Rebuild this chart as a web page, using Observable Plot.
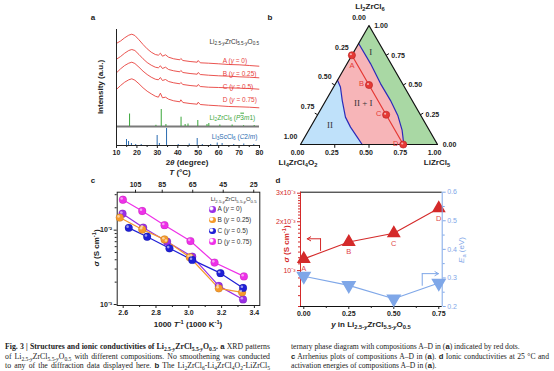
<!DOCTYPE html>
<html><head><meta charset="utf-8">
<script src="https://cdn.jsdelivr.net/npm/d3@7"></script>
<script src="https://cdn.jsdelivr.net/npm/@observablehq/plot@0.6"></script>
<style>
html,body{margin:0;padding:0;background:#fff;}
#root{position:relative;width:554px;height:371px;overflow:hidden;background:#fff;}
.t{position:absolute;white-space:nowrap;line-height:1;}
.cap{position:absolute;font-family:'Liberation Serif','Times New Roman',serif;font-size:7px;line-height:1;white-space:nowrap;color:#222;}
</style></head><body><div id="root"></div>
<script>
// ---------------- DATA ----------------
// (a) XRD patterns, 2θ (degree) and offset intensity (a.u.)
const twoTheta = [10.3,12,14,16,17.5,19,21,23,25,27,29,30.5,31.5,32.5,34,35.5,38,41,41.5,42.5,46,49.5,50,51,55,60,65,70,75,79.7];
const xrdA = [102.5,104.5,107.7,110.3,111.3,110,105.7,101,96.7,93.3,91,90.3,92.3,89.3,90.7,88.3,86.7,85.7,87,85,84,83.3,85,82.7,82.3,81.7,81,80.7,80,79.3];
const xrdB = [86.7,89,92.3,95,96,95,91,86.7,83,80.3,78.3,77.7,79.7,77,78.3,76,74.7,73.7,75,73,72,71.3,73,71,70.3,69.7,69.3,68.7,68.3,67.7];
const xrdC = [73.3,76.7,80,82.3,83.3,82,78.3,74.3,71,68.3,66.3,65.7,68,65,66,64,62.7,61.7,63,61,60,59.3,61,59,58.3,58,57.7,57.3,57,56.3];
const xrdD = [56.7,60,63.3,65.7,66.7,65.3,61.7,57.7,54.3,51.7,49.3,48.3,52.3,47.7,48.3,46.3,44.7,43.7,45.7,43,42,41.3,43.3,41,40.3,39.7,39,38.7,38.3,37.7];
const xrdSeries = ["A","B","C","D"];
const refLi2ZrCl6Pos = [16.4,29.3,31.9,34.2,41.6,43.6,45.0,49.8,54.3,55.2,60.6,66.6,72.2,77.4];
const refLi2ZrCl6Int = [12.5,1.2,17,2,9.3,2,2.5,6,2,3,1.5,1.5,0.8,1];
const refLi3ScCl6Pos = [14.9,15.9,17.3,19.4,22.1,29.9,31.0,34.5,40.2,45.6,49.5,52.0,56.1,59.3,61.7,67.4,72.3,77.2];
const refLi3ScCl6Int = [6,4,2,1,1,10,2,17,1,1.5,7,1,1,2.5,2,1,1.5,1];
const refBaseline = 19;

// (b) ternary phase diagram: fractions of Li2ZrCl6 (t) and LiZrCl5 (b); Li4ZrCl4O2 = 1 - t - b
const ternTicks = [0,0.25,0.5,0.75,1];
const compLabels = ["A","B","C","D"];
const compLi2ZrCl6 = [0.75,0.5,0.25,0];
const compLiZrCl5 = [0,0.25,0.5,0.75];
const boundI_Li2ZrCl6 = [0.849,0.68,0.512,0.371,0.2445,0.118,0];
const boundI_LiZrCl5  = [0,0.171,0.328,0.471,0.588,0.683,0.754];
const boundII_Li2ZrCl6 = [0.54,0.483,0.371,0.23,0.146,0.062,0];
const boundII_LiZrCl5  = [0,0.05,0.119,0.213,0.292,0.383,0.45];

// (c) Arrhenius data: 1000/T (1000 K^-1) and σ (S cm^-1)
const invT_A = [2.596,2.722,2.868,3.021,3.183,3.331];
const sig_A  = [0.01667,0.01085,0.00699,0.0044,0.00178,0.00117];
const invT_B = [2.579,2.716,2.852,3.006,3.183,3.325];
const sig_B  = [0.01476,0.0102,0.00751,0.00432,0.00165,0.00146];
const invT_C = [2.634,2.746,2.882,3.021,3.193,3.331];
const sig_C  = [0.01074,0.00815,0.0057,0.00398,0.00264,0.00167];
const invT_D = [2.598,2.716,2.852,3.010,3.157,3.336];
const sig_D  = [0.02565,0.01811,0.01166,0.00714,0.00367,0.00239];
const tempTickPos = [2.675,2.838,3.024,3.21,3.396];
const tempTickLabels = ["105","85","65","45","25"];

// (d) σ at 25 °C and activation energy vs y
const yComp = [0,0.25,0.5,0.75];
const sigma25 = [1.18e-3,1.50e-3,1.70e-3,2.42e-3];
const Ea = [0.306,0.274,0.227,0.282];
const sigmaArrow = [{x:0.093,s:1.33e-3},{x:0.093,s:1.57e-3},{x:0.019,s:1.57e-3}];
const eaArrow = [{x:0.658,e:0.274},{x:0.658,e:0.315},{x:0.748,e:0.315}];

// ---------------- HELPERS ----------------
const W=554,H=371;
const root=document.getElementById("root");
const SANS="'Liberation Sans', Arial, Helvetica, sans-serif";
const SERIF="'Liberation Serif','Times New Roman',serif";
const RED="#e8413c", GREEN="#3aa63a", SCBLUE="#2b6cb0";
const DRED="#d42a2a", LBLUE="#7fa7e8";
const seriesColors=["#9a2ee6","#f59a2c","#1f1fd6","#ee30e8"];
const svgStyle=`position:absolute;left:0;top:0;background:transparent;overflow:visible;font-family:${SANS};font-size:7px;font-weight:bold;color:#222;`;
const sb=s=>`<span style="font-size:72%;position:relative;top:0.32em">${s}</span>`;
const sp=s=>`<span style="font-size:72%;position:relative;top:-0.45em">${s}</span>`;
const LZC=`Li${sb("2.5-<i>y</i>")}ZrCl${sb("5.5-<i>y</i>")}O${sb("0.5")}`;
function T(html,x,y,o={}){
  const {size=7,weight="normal",color="#222",anchor="middle",rotate=0,family=SANS}=o;
  const d=document.createElement("div");d.className="t";d.innerHTML=html;
  d.style.left=x+"px";d.style.top=y+"px";d.style.fontFamily=family;d.style.fontSize=size+"px";
  d.style.fontWeight=weight;d.style.color=color;
  const tx=anchor==="start"?"0":anchor==="end"?"-100%":"-50%";
  d.style.transform=`translate(${tx},-50%)`+(rotate?` rotate(${rotate}deg)`:"");
  root.appendChild(d);return d;
}
function add(p){root.appendChild(p);}
const triDown={draw(ctx,size){const r=Math.sqrt(size/Math.sqrt(3))*1.1;ctx.moveTo(-r,-r*0.58);ctx.lineTo(r,-r*0.58);ctx.lineTo(0,r*1.15);ctx.closePath();}};

// ---------------- PANEL a ----------------
const xrdArrays=[xrdA,xrdB,xrdC,xrdD];
const xrdRows=xrdSeries.flatMap((s,k)=>xrdArrays[k].map((v,i)=>({s,t:twoTheta[i],v})));
const greenRows=refLi2ZrCl6Pos.map((t,i)=>({t,h:refLi2ZrCl6Int[i]}));
const blueRows=refLi3ScCl6Pos.map((t,i)=>({t,h:refLi3ScCl6Int[i]}));
add(Plot.plot({
  width:W,height:H,marginLeft:116,marginRight:W-259,marginTop:29,marginBottom:H-145,
  style:svgStyle,x:{domain:[10,80]},y:{domain:[0,116]},
  marks:[
    Plot.ruleY([refBaseline],{stroke:"#7a7a7a",strokeWidth:1.8}),
    Plot.ruleX(greenRows,{x:"t",y1:refBaseline,y2:d=>refBaseline+d.h,stroke:GREEN,strokeWidth:1}),
    Plot.ruleX(blueRows,{x:"t",y1:0,y2:"h",stroke:SCBLUE,strokeWidth:1}),
    Plot.line(xrdRows,{x:"t",y:"v",z:"s",stroke:RED,strokeWidth:0.9}),
    Plot.ruleX([10],{stroke:"#222",strokeWidth:1}),
    Plot.ruleY([0],{stroke:"#222",strokeWidth:1}),
    Plot.axisX({ticks:d3.range(10,81,10),tickSize:3,tickPadding:2,label:null,tickFormat:d=>String(d)}),
    Plot.axisX({ticks:d3.range(15,80,10),tickSize:2,label:null,tickFormat:()=>""}),
    Plot.axisY({ticks:[],label:null})
  ]
}));

// ---------------- PANEL b ----------------
const s3=Math.sqrt(3)/2;
const tern=(t,b)=>({x:b+t/2,y:t*s3});
const bI=boundI_Li2ZrCl6.map((t,i)=>tern(t,boundI_LiZrCl5[i]));
const bII=boundII_Li2ZrCl6.map((t,i)=>tern(t,boundII_LiZrCl5[i]));
const apex=tern(1,0),BL=tern(0,0),BR=tern(0,1);
const polyI=[apex,BR,...bI.slice().reverse()];
const polyMix=[...bI,...bII.slice().reverse()];
const polyII=[BL,...bII];
const comps=compLabels.map((l,i)=>({l,...tern(compLi2ZrCl6[i],compLiZrCl5[i])}));
const tickL=ternTicks.map(v=>({v,...tern(1-v,0)}));
const tickR=ternTicks.map(v=>({v,...tern(v,1-v)}));
const tickB=ternTicks.map(v=>({v,...tern(0,v)}));
const tk=0.024;
add(Plot.plot({
  width:W,height:H,marginLeft:300,marginRight:W-437,marginTop:25,marginBottom:H-144,
  style:svgStyle,x:{domain:[0,1],axis:null},y:{domain:[0,s3],axis:null},
  marks:[
    Plot.line(polyI,{x:"x",y:"y",fill:"#a9d8a4",stroke:"none",curve:"linear-closed"}),
    Plot.line(polyMix,{x:"x",y:"y",fill:"#f7b5b8",stroke:"none",curve:"linear-closed"}),
    Plot.line(polyII,{x:"x",y:"y",fill:"#bfe1fa",stroke:"none",curve:"linear-closed"}),
    Plot.line(bI,{x:"x",y:"y",stroke:"#2a2ab8",strokeWidth:1.2}),
    Plot.line(bII,{x:"x",y:"y",stroke:"#2a2ab8",strokeWidth:1.2}),
    Plot.line([apex,BL,BR],{x:"x",y:"y",stroke:"#111",strokeWidth:1.2,curve:"linear-closed"}),
    Plot.link(tickB.slice(1,4),{x1:"x",y1:"y",x2:"x",y2:d=>d.y-tk,stroke:"#111"}),
    Plot.link(tickL.slice(1,4),{x1:"x",y1:"y",x2:d=>d.x-tk*0.87,y2:d=>d.y+tk*0.5,stroke:"#111"}),
    Plot.link(tickR.slice(1,4),{x1:"x",y1:"y",x2:d=>d.x+tk*0.87,y2:d=>d.y+tk*0.5,stroke:"#111"}),
    Plot.text(tickB,{x:"x",y:"y",text:d=>d.v.toFixed(2),dx:-3,dy:8,fontSize:7,fontWeight:"bold"}),
    Plot.text(tickL,{x:"x",y:"y",text:d=>d.v.toFixed(2),dx:-10,dy:-8,fontSize:7,fontWeight:"bold"}),
    Plot.text(tickR,{x:"x",y:"y",text:d=>d.v.toFixed(2),dx:12,dy:0,fontSize:7,fontWeight:"bold"}),
    Plot.line(comps,{x:"x",y:"y",stroke:"#e53935",strokeWidth:1.2}),
    Plot.dot(comps,{x:"x",y:"y",r:3.6,fill:"#e53935",stroke:"#b71c1c",strokeWidth:0.6}),
    Plot.dot(comps,{x:"x",y:"y",r:1.1,fill:"#fff",fillOpacity:0.6,dx:-1,dy:-1}),
    Plot.text(comps.slice(0,1),{x:"x",y:"y",text:"l",dy:10,fill:"#e53935",fontSize:7.5,fontWeight:"normal"}),
    Plot.text(comps.slice(1),{x:"x",y:"y",text:"l",dx:-7.5,dy:-1,fill:"#e53935",fontSize:7.5,fontWeight:"normal"})
  ]
}));

// ---------------- PANEL c ----------------
const cInv=[invT_A,invT_B,invT_C,invT_D],cSig=[sig_A,sig_B,sig_C,sig_D];
const cRows=compLabels.flatMap((s,k)=>cInv[k].map((x,i)=>({s,x,y:cSig[k][i]})));
const cMinor=[2,3,4,5,6,7,8,9].map(m=>m*1e-3).concat([0.02,0.03]);
add(Plot.plot({
  width:W,height:H,marginLeft:116.7,marginRight:W-259.3,marginTop:191.7,marginBottom:H-305,
  style:svgStyle,x:{domain:[2.5634,3.433]},y:{type:"log",domain:[9.7e-4,3.24e-2]},
  color:{domain:compLabels,range:seriesColors},
  marks:[
    Plot.frame({stroke:"#222"}),
    Plot.axisX({ticks:[2.6,2.8,3.0,3.2,3.4],tickSize:3,tickPadding:2,label:null,tickFormat:d=>d.toFixed(1)}),
    Plot.axisX({ticks:[2.7,2.9,3.1,3.3],tickSize:2,label:null,tickFormat:()=>""}),
    Plot.axisX({anchor:"top",ticks:tempTickPos,tickSize:3,tickPadding:2,label:null,tickFormat:d=>tempTickLabels[tempTickPos.indexOf(d)]}),
    Plot.axisY({ticks:[1e-3,1e-2],tickSize:3,tickPadding:2,label:null,tickFormat:d=>d===1e-2?"10⁻²":"10⁻³"}),
    Plot.axisY({ticks:cMinor,tickSize:2,label:null,tickFormat:()=>""}),
    Plot.line(cRows,{x:"x",y:"y",stroke:"s",strokeWidth:1.2}),
    Plot.dot(cRows,{x:"x",y:"y",fill:"s",r:3.9,stroke:"#0003",strokeWidth:0.5}),
    Plot.dot(cRows,{x:"x",y:"y",r:1.3,fill:"#fff",fillOpacity:0.55,dx:-1.2,dy:-1.2})
  ]
}));

// ---------------- PANEL d ----------------
const dRows=yComp.map((x,i)=>({x,s:sigma25[i],e:Ea[i],l:compLabels[i]}));
const dX=[-0.0183,0.769];
const dXaxis=[0,0.25,0.5,0.75];
const sigMinor=d3.range(6,31).map(i=>i*1e-4).filter(v=>![10,20,30].includes(Math.round(v*1e4)));
add(Plot.plot({
  width:W,height:H,marginLeft:300,marginRight:W-441.7,marginTop:191.7,marginBottom:H-306,
  style:svgStyle,x:{domain:dX},y:{type:"log",domain:[6.0e-4,3.043e-3]},
  marks:[
    Plot.ruleY([3.043e-3],{stroke:"#111",strokeWidth:1}),
    Plot.ruleY([6.0e-4],{stroke:"#111",strokeWidth:1}),
    Plot.ruleX([dX[0]],{stroke:DRED,strokeWidth:1}),
    Plot.axisX({ticks:dXaxis,tickSize:3,tickPadding:2,label:null,tickFormat:d=>d.toFixed(2)}),
    Plot.axisX({ticks:[0.125,0.375,0.625],tickSize:2,label:null,tickFormat:()=>""}),
    Plot.axisY({ticks:[1e-3,2e-3,3e-3],tickSize:3,tickPadding:2,label:null,color:DRED,fontWeight:"normal",tickFormat:d=>d<1.5e-3?"10⁻³":`${Math.round(d*1000)}x10⁻³`}),
    Plot.axisY({ticks:sigMinor,tickSize:2,label:null,color:DRED,tickFormat:()=>""}),
    Plot.line(dRows,{x:"x",y:"s",stroke:DRED,strokeWidth:1.1}),
    Plot.dot(dRows,{x:"x",y:"s",symbol:"triangle",r:4.2,fill:DRED,stroke:DRED}),
    Plot.text(dRows,{x:"x",y:"s",text:"l",dy:10,fill:"#e0474a",fontSize:7.5,fontWeight:"normal"}),
    Plot.line(sigmaArrow.slice(0,2),{x:"x",y:"s",stroke:DRED,strokeWidth:1}),
    Plot.arrow(sigmaArrow.slice(1,2),{x1:"x",y1:"s",x2:sigmaArrow[2].x,y2:sigmaArrow[2].s,stroke:DRED,strokeWidth:1,headLength:6})
  ]
}));
add(Plot.plot({
  width:W,height:H,marginLeft:300,marginRight:W-441.7,marginTop:191.7,marginBottom:H-306,
  style:svgStyle,x:{domain:dX,axis:null},y:{domain:[0.2,0.6]},
  marks:[
    Plot.ruleX([dX[1]],{stroke:LBLUE,strokeWidth:1}),
    Plot.axisY({anchor:"right",ticks:[0.2,0.3,0.4,0.5,0.6],tickSize:3,tickPadding:2,label:null,color:LBLUE,fontWeight:"normal",tickFormat:d=>d.toFixed(1)}),
    Plot.axisY({anchor:"right",ticks:[0.25,0.35,0.45,0.55],tickSize:2,label:null,color:LBLUE,tickFormat:()=>""}),
    Plot.line(dRows,{x:"x",y:"e",stroke:LBLUE,strokeWidth:1.1}),
    Plot.dot(dRows,{x:"x",y:"e",symbol:triDown,r:4.2,fill:LBLUE,stroke:LBLUE}),
    Plot.line(eaArrow.slice(0,2),{x:"x",y:"e",stroke:LBLUE,strokeWidth:1}),
    Plot.arrow(eaArrow.slice(1,2),{x1:"x",y1:"e",x2:eaArrow[2].x,y2:eaArrow[2].e,stroke:LBLUE,strokeWidth:1,headLength:6})
  ]
}));

// ---------------- TEXT ----------------
T("a",93,18,{size:8,weight:"bold"});
T("b",270,18,{size:8,weight:"bold"});
T("c",93,181,{size:8,weight:"bold"});
T("d",278,181,{size:8,weight:"bold"});
// a
T(LZC,209.5,42,{anchor:"start",size:6.5,color:"#333"});
const aLbl=["A (<i>y</i> = 0)","B (<i>y</i> = 0.25)","C (<i>y</i> = 0.5)","D (<i>y</i> = 0.75)"];
[61,74,87.3,100].forEach((y,i)=>T(aLbl[i],222.7,y,{anchor:"start",size:6.5,color:RED}));
T(`Li${sb(2)}ZrCl${sb(6)} (<i>P</i><span style="text-decoration:overline">3</span><i>m</i>1)`,209.5,117.7,{anchor:"start",size:6.5,color:GREEN});
T(`Li${sb(3)}ScCl${sb(6)} (<i>C</i>2/<i>m</i>)`,211.7,136.7,{anchor:"start",size:6.5,color:SCBLUE});
T("2<i>θ</i> (degree)",187,163,{size:8,weight:"bold"});
T("Intensity (a.u.)",101,87,{size:8,weight:"bold",rotate:-90});
// b
T(`Li${sb(2)}ZrCl${sb(6)}`,370,7,{size:8,weight:"bold"});
T(`Li${sb(4)}ZrCl${sb(4)}O${sb(2)}`,298,163,{size:8,weight:"bold"});
T(`LiZrCl${sb(5)}`,437,163,{size:8,weight:"bold"});
T("I",370.7,52,{size:9,family:SERIF,color:"#333"});
T("II + I",363.3,103.3,{size:9,family:SERIF,color:"#333"});
T("II",330,125,{size:9,family:SERIF,color:"#333"});
// c
T("<i>T</i> (°C)",180,173,{size:8,weight:"bold"});
T(`1000 <i>T</i>${sp("-1")} (1000 K${sp("-1")})`,188,325,{size:8,weight:"bold"});
T(`<i>σ</i> (S cm${sp("-1")})`,97,248,{size:8,weight:"bold",rotate:-90});
T(LZC,210.7,199.3,{anchor:"start",size:6,color:"#333"});
[209.3,220,231,241.7].forEach((y,i)=>{
  const dot=document.createElement("div");
  dot.style.cssText=`position:absolute;left:${212.7-3.3}px;top:${y-3.3}px;width:6.6px;height:6.6px;border-radius:50%;background:radial-gradient(circle at 35% 35%, #fff8 0 18%, ${seriesColors[i]} 40%);`;
  root.appendChild(dot);
  T(aLbl[i],217.5,y,{anchor:"start",size:6.5,color:"#333"});
});
// d
T(`<i>y</i> in ${LZC}`,371,325,{size:8,weight:"bold"});
T(`<i>σ</i> (S cm${sp("-1")})`,287,244,{size:8,weight:"bold",rotate:-90,color:DRED});
T(`<i>E</i>${sb("a")} (eV)`,462,250,{size:8,rotate:-90,color:LBLUE});

// ---------------- CAPTION ----------------
const B=s=>`<b style="font-family:${SANS}">${s}</b>`;
function capCol(lines,x,ys,width,fullIdx,refIdx){
  const divs=lines.map((html,i)=>{const d=document.createElement("div");d.className="cap";d.innerHTML=html;
    d.style.left=x+"px";root.appendChild(d);return d;});
  const w0=divs[refIdx].getBoundingClientRect().width;
  const size=Math.min(8.2,7*width/w0*0.97);
  divs.forEach((d,i)=>{d.style.fontSize=size+"px";d.style.top=(ys[i]-size/2)+"px";
    if(fullIdx.includes(i)){const w=d.getBoundingClientRect().width;const n=(d.textContent.match(/ /g)||[]).length;
      if(n)d.style.wordSpacing=((width-w)/n)+"px";}});
}
const LZCc=`Li${sb("2.5-<i>y</i>")}ZrCl${sb("5.5-<i>y</i>")}O${sb("0.5")}`;
capCol([
  `<b>Fig. 3 | Structures and ionic conductivities of ${LZCc}.</b> ${B("a")} XRD patterns`,
  `of ${LZCc} with different compositions. No smoothening was conducted`,
  `to any of the diffraction data displayed here. ${B("b")} The Li${sb(2)}ZrCl${sb(6)}-Li${sb(4)}ZrCl${sb(4)}O${sb(2)}-LiZrCl${sb(5)}`
],5,[347,357,366],265,[0,1,2],1);
capCol([
  `ternary phase diagram with compositions A–D in (${B("a")}) indicated by red dots.`,
  `${B("c")} Arrhenius plots of compositions A–D in (${B("a")}). ${B("d")} Ionic conductivities at 25 °C and`,
  `activation energies of compositions A–D in (${B("a")}).`
],291,[347,357,366],258,[1],1);
</script></body></html>
